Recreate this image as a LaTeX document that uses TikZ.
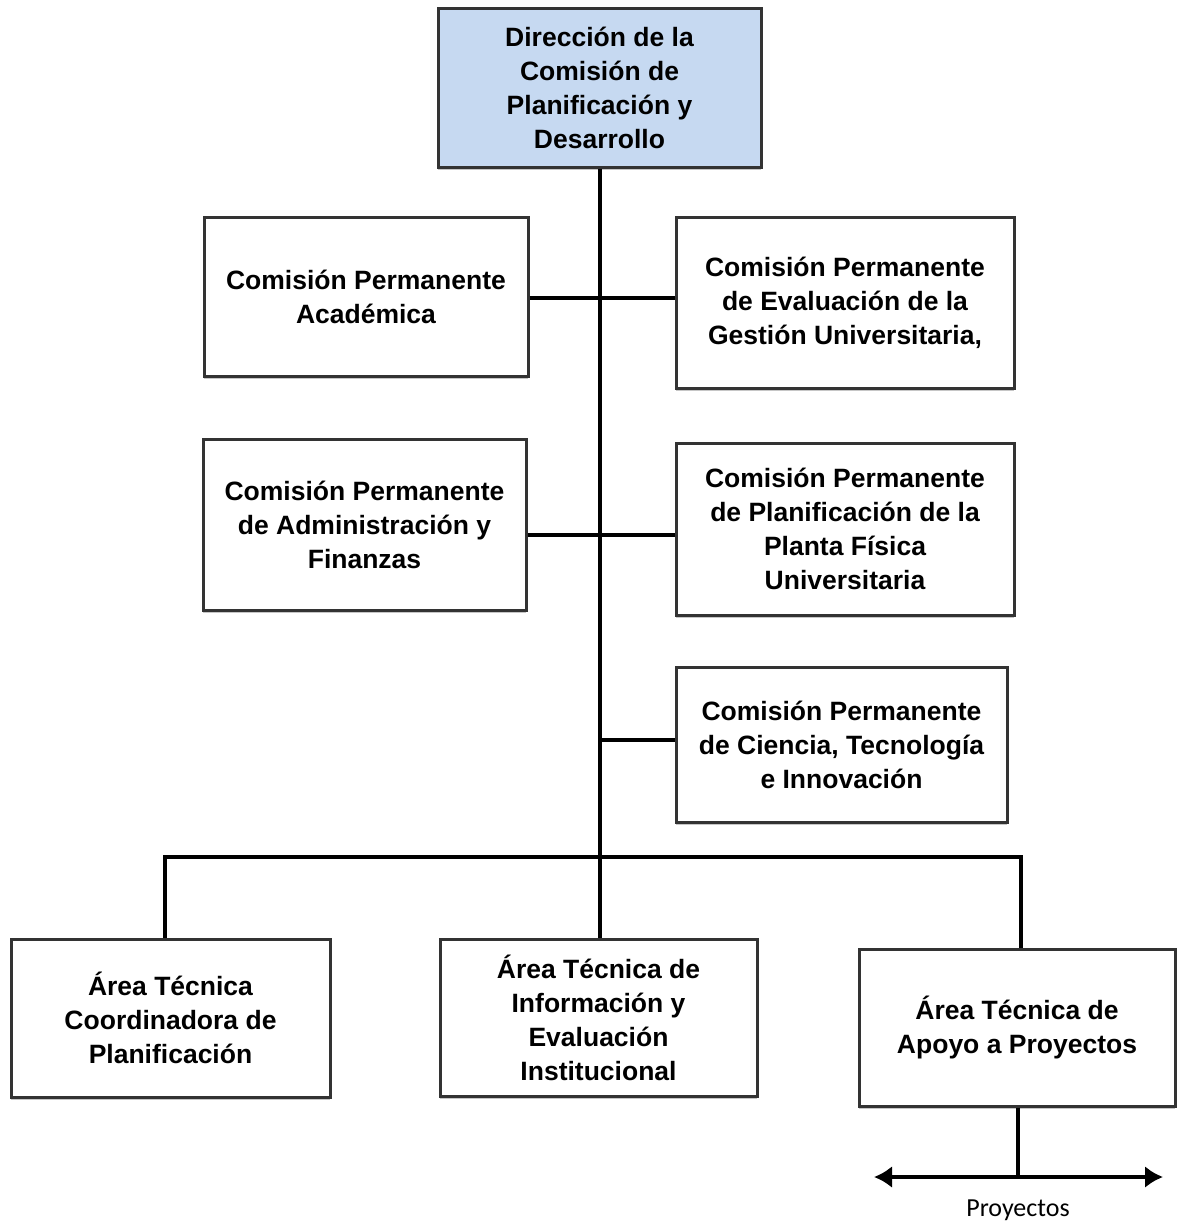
\documentclass[tikz,border=0pt]{standalone}
\usepackage{fontspec}
\setmainfont{Liberation Sans}
\newfontfamily\labelfont{Carlito}
\usetikzlibrary{arrows.meta,shadows}
\definecolor{boxborder}{HTML}{333333}
\definecolor{topblue}{HTML}{C6D9F1}
\tikzset{
  orgbox/.style={draw=boxborder, line width=3pt, fill=white, rectangle,
    inner sep=0pt, align=center,
    font=\bfseries\fontsize{26.5}{34}\selectfont,
    drop shadow={shadow xshift=0pt, shadow yshift=-3pt, fill=gray!45, opacity=1}},
  conn/.style={draw=black, line width=4pt},
}
\begin{document}
\begin{tikzpicture}[x=1pt,y=-1pt]
\useasboundingbox (0,0) rectangle (1178,1223);
% nodes
\node[orgbox, fill=topblue, minimum width=323pt, minimum height=158pt] (top) at (599.5,88)
  {Dirección de la\\Comisión de\\Planificación y\\Desarrollo};
\node[orgbox, minimum width=324pt, minimum height=159pt] (acad) at (366,296.5)
  {Comisión Permanente\\Académica};
\node[orgbox, minimum width=338pt, minimum height=171pt] (eval) at (845,302.5)
  {Comisión Permanente\\de Evaluación de la\\Gestión Universitaria,};
\node[orgbox, minimum width=323pt, minimum height=171pt] (admin) at (364.5,524.5)
  {Comisión Permanente\\de Administración y\\Finanzas};
\node[orgbox, minimum width=338pt, minimum height=172pt] (planta) at (845,529)
  {Comisión Permanente\\de Planificación de la\\Planta Física\\Universitaria};
\node[orgbox, minimum width=331pt, minimum height=155pt] (ciencia) at (841.5,744.5)
  {Comisión Permanente\\de Ciencia, Tecnología\\e Innovación};
\node[orgbox, minimum width=319pt, minimum height=158pt] (coord) at (170.5,1018)
  {Área Técnica\\Coordinadora de\\Planificación};
\node[orgbox, minimum width=317pt, minimum height=157pt] (info) at (598.5,1017.5)
  {Área Técnica de\\Información y\\Evaluación\\Institucional};
\node[orgbox, minimum width=316pt, minimum height=157pt] (apoyo) at (1017,1027.5)
  {Área Técnica de\\Apoyo a Proyectos};
\node[font=\labelfont\fontsize{26}{30}\selectfont, inner sep=0pt] (proy) at (1018,1210) {Proyectos};
% coordinates
\coordinate (busmid) at (600,857);
\coordinate (busl) at (165,857);
\coordinate (busr) at (1021,857);
\coordinate (rowA) at (600,298);
\coordinate (rowC) at (600,535);
\coordinate (rowE) at (600,740);
\coordinate (arrmid) at (1018,1177);
\coordinate (arrl) at (874,1177);
\coordinate (arrr) at (1163,1177);
% connectors
\draw[conn] (top.south -| busmid) -- (busmid);
\draw[conn] (acad.east |- rowA) -- (eval.west |- rowA);
\draw[conn] (admin.east |- rowC) -- (planta.west |- rowC);
\draw[conn] (rowE) -- (ciencia.west |- rowE);
\draw[conn, line cap=rect] (busl) -- (busr);
\draw[conn] (busl) -- (coord.north -| busl);
\draw[conn] (busmid) -- (info.north -| busmid);
\draw[conn] (busr) -- (apoyo.north -| busr);
\draw[conn] (apoyo.south -| arrmid) -- (arrmid);
\draw[conn, {Latex[length=18pt,width=22pt]}-{Latex[length=18pt,width=22pt]}] (arrl) -- (arrr);
\end{tikzpicture}
\end{document}
